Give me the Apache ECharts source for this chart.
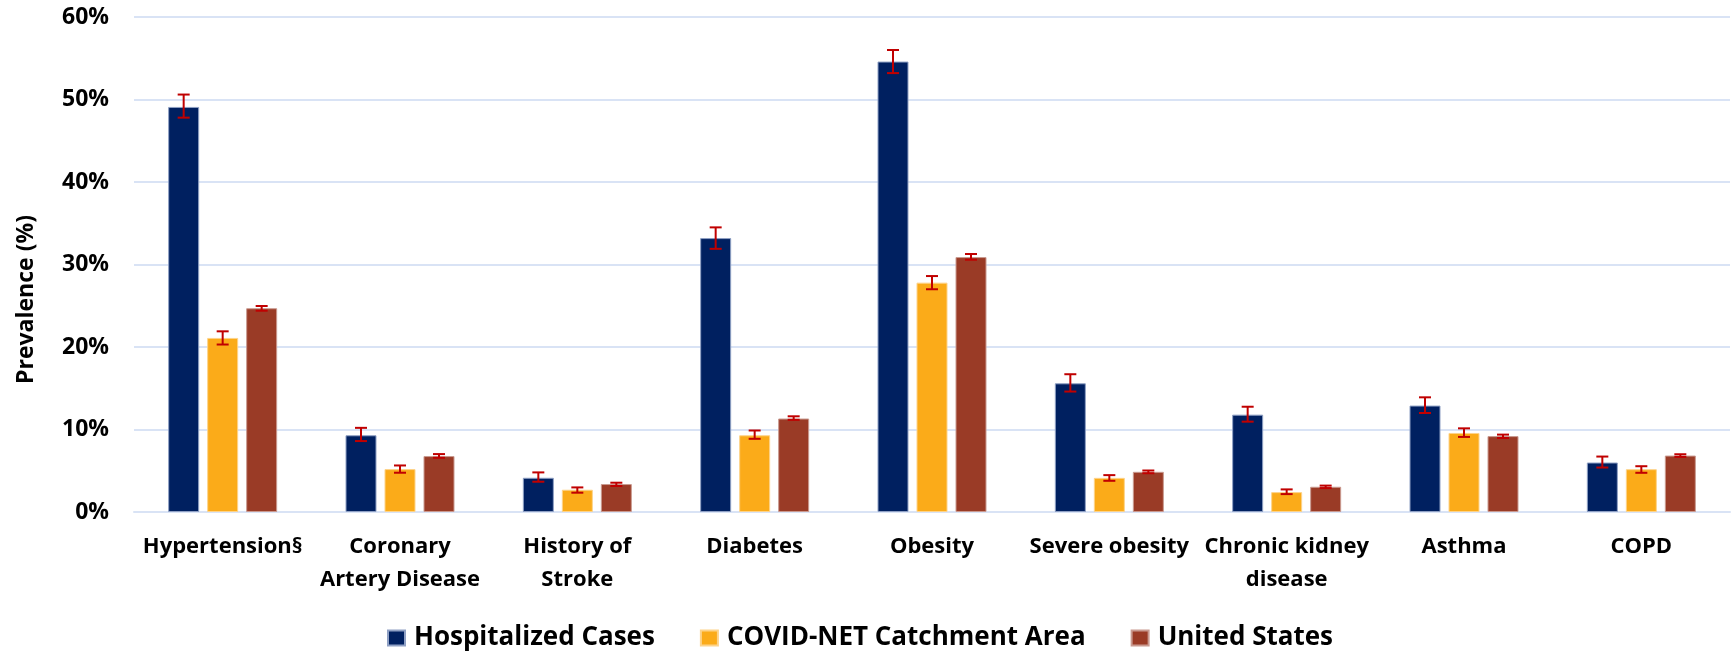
<!DOCTYPE html>
<html>
<head>
<meta charset="utf-8">
<script src="https://cdn.jsdelivr.net/npm/echarts@6/dist/echarts.min.js"></script>
<style>
html,body{margin:0;padding:0;background:#fff;}
#chart{width:1731px;height:654px;}
</style>
</head>
<body>
<div id="chart"></div>
<script>
const categories = ['Hypertension§', 'Coronary\nArtery Disease', 'History of\nStroke', 'Diabetes', 'Obesity', 'Severe obesity', 'Chronic kidney\ndisease', 'Asthma', 'COPD'];
const seriesNames = ['Hospitalized Cases', 'COVID-NET Catchment Area', 'United States'];
const yTicks = [0, 10, 20, 30, 40, 50, 60];

const hospitalized = [49.1, 9.3, 4.15, 33.2, 54.6, 15.6, 11.8, 12.9, 6.0];
const hospitalizedLow = [47.8, 8.6, 3.67, 31.9, 53.2, 14.6, 10.95, 12.0, 5.39];
const hospitalizedHigh = [50.6, 10.2, 4.8, 34.5, 56.0, 16.7, 12.76, 13.9, 6.72];

const catchment = [21.1, 5.2, 2.7, 9.3, 27.8, 4.14, 2.41, 9.58, 5.19];
const catchmentLow = [20.3, 4.76, 2.34, 8.87, 27.0, 3.78, 2.17, 9.1, 4.75];
const catchmentHigh = [21.9, 5.64, 2.98, 9.88, 28.6, 4.47, 2.74, 10.14, 5.55];

const unitedStates = [24.7, 6.78, 3.39, 11.33, 30.9, 4.87, 3.06, 9.2, 6.84];
const unitedStatesLow = [24.4, 6.57, 3.15, 11.17, 30.58, 4.7, 2.9, 8.97, 6.68];
const unitedStatesHigh = [24.97, 7.02, 3.55, 11.6, 31.27, 5.03, 3.2, 9.38, 7.0];

const colors = ['#002060', '#FBAB19', '#9A3B26'];
const borderColors = ['#8FA0C4', '#FDD38A', '#C99A90'];
const BAR_W = 31, BAR_GAP = 8;
const FONT = "'Open Sans', sans-serif";

const values = [hospitalized, catchment, unitedStates];
const lows = [hospitalizedLow, catchmentLow, unitedStatesLow];
const highs = [hospitalizedHigh, catchmentHigh, unitedStatesHigh];

const chart = echarts.init(document.getElementById('chart'), null, {renderer: 'canvas'});

const barSeries = seriesNames.map((name, i) => ({
  name: name,
  type: 'bar',
  data: values[i],
  barWidth: BAR_W,
  barGap: (BAR_GAP / BAR_W * 100) + '%',
  itemStyle: {color: colors[i], borderColor: borderColors[i], borderWidth: 1},
  z: 2
}));

const errSeries = seriesNames.map((name, i) => ({
  type: 'custom',
  silent: true,
  z: 5,
  data: categories.map((c, k) => [k, lows[i][k], highs[i][k]]),
  renderItem: function (params, api) {
    const offset = (i - 1) * (BAR_W + BAR_GAP);
    const lo = api.coord([api.value(0), api.value(1)]);
    const hi = api.coord([api.value(0), api.value(2)]);
    const x = lo[0] + offset;
    const hw = 6;
    const style = {stroke: '#C00000', lineWidth: 2};
    return {
      type: 'group',
      children: [
        {type: 'line', shape: {x1: x, y1: lo[1], x2: x, y2: hi[1]}, style: style},
        {type: 'line', shape: {x1: x - hw, y1: lo[1], x2: x + hw, y2: lo[1]}, style: style},
        {type: 'line', shape: {x1: x - hw, y1: hi[1], x2: x + hw, y2: hi[1]}, style: style}
      ]
    };
  }
}));

chart.setOption({
  animation: false,
  backgroundColor: '#fff',
  grid: {left: 134, right: 1, top: 17, bottom: 142, containLabel: false},
  legend: {
    data: seriesNames,
    top: 620,
    left: 382,
    itemWidth: 17,
    itemHeight: 15,
    itemGap: 45,
    icon: 'rect',
    textStyle: {fontFamily: FONT, fontWeight: 'bold', fontSize: 26, color: '#000', padding: [0, 0, 0, 4]}
  },
  xAxis: {
    type: 'category',
    data: categories,
    axisTick: {show: false},
    axisLine: {lineStyle: {color: '#D9E3F5', width: 2}},
    axisLabel: {
      interval: 0,
      margin: 18,
      fontFamily: FONT, fontWeight: 'bold', fontSize: 22, color: '#000',
      lineHeight: 33
    }
  },
  yAxis: {
    type: 'value',
    min: 0, max: 60, interval: 10,
    name: 'Prevalence (%)',
    nameLocation: 'middle',
    nameGap: 96,
    nameTextStyle: {fontFamily: FONT, fontWeight: 'bold', fontSize: 23, color: '#000', padding: [0, 70, 0, 0]},
    axisLine: {show: false},
    axisTick: {show: false},
    splitLine: {lineStyle: {color: '#D9E3F5', width: 2}},
    axisLabel: {
      margin: 25,
      fontFamily: FONT, fontWeight: 'bold', fontSize: 23, color: '#000',
      formatter: function (v) { return yTicks.indexOf(v) >= 0 ? v + '%' : ''; }
    }
  },
  series: barSeries.concat(errSeries)
});
</script>
</body>
</html>
